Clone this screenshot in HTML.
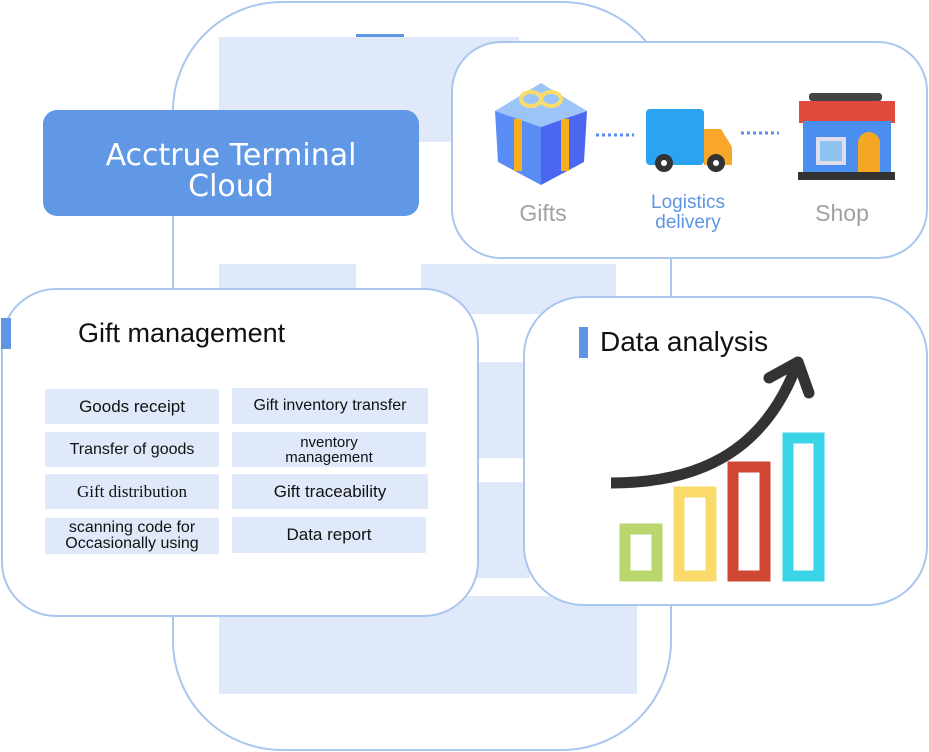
<!DOCTYPE html>
<html><head><style>
body{margin:0;width:929px;height:752px;position:relative;overflow:hidden;background:#fff;font-family:"Liberation Sans","DejaVu Sans",sans-serif}
.a{position:absolute;box-sizing:border-box}
.bl{background:#dfe9f9}
.cell{position:absolute;background:#dfe9f9;display:flex;align-items:center;justify-content:center;text-align:center;font-size:16px;line-height:16px;color:#111}
</style></head><body>
<div class="a" style="left:172px;top:1px;width:500px;height:750px;border:2px solid #a9c6ef;border-radius:110px"></div>
<div class="a" style="left:356px;top:34px;width:48px;height:4px;background:#5f96e4"></div>
<div class="a bl" style="left:219px;top:37px;width:300px;height:105px"></div>
<div class="a bl" style="left:219px;top:264px;width:137px;height:40px"></div>
<div class="a bl" style="left:421px;top:264px;width:195px;height:50px"></div>
<div class="a bl" style="left:470px;top:362px;width:60px;height:96px"></div>
<div class="a bl" style="left:470px;top:482px;width:60px;height:96px"></div>
<div class="a bl" style="left:219px;top:596px;width:418px;height:98px"></div>

<div class="a" style="left:43px;top:110px;width:376px;height:106px;background:#6098e6;border-radius:14px;color:#fff;font-family:'DejaVu Sans',sans-serif;font-size:30px;line-height:31px;text-align:center;padding-top:30px">Acctrue Terminal<br>Cloud</div>

<div class="a" style="left:451px;top:41px;width:477px;height:218px;background:#fff;border:2px solid #a9c6ef;border-radius:50px"></div>
<svg class="a" style="left:451px;top:41px" width="477" height="218">
 <polygon points="44,70 90,86 136,70 90,42" fill="#9cc4f9"/>
 <polygon points="44,70 90,86 90,144 47,121" fill="#5a8cf5"/>
 <polygon points="90,86 136,70 133,121 90,144" fill="#4b67f0"/>
 <rect x="63" y="78" width="8" height="52" fill="#f5ae1c"/><rect x="110" y="78" width="8" height="52" fill="#f5ae1c"/>
 <ellipse cx="80" cy="58" rx="10" ry="7" fill="none" stroke="#f9dc6b" stroke-width="4"/>
 <ellipse cx="100" cy="58" rx="10" ry="7" fill="none" stroke="#f9dc6b" stroke-width="4"/>
 <line x1="145" y1="94" x2="183" y2="94" stroke="#5a8cf5" stroke-width="3" stroke-dasharray="3,3"/>
 <rect x="195" y="68" width="58" height="56" rx="4" fill="#2aa3f0"/>
 <path d="M253,88 h17 l11,18 v18 h-28z" fill="#f9a72a"/>
 <circle cx="213" cy="122" r="9" fill="#333"/><circle cx="213" cy="122" r="3" fill="#fff"/>
 <circle cx="265" cy="122" r="9" fill="#333"/><circle cx="265" cy="122" r="3" fill="#fff"/>
 <line x1="290" y1="92" x2="328" y2="92" stroke="#5a8cf5" stroke-width="3" stroke-dasharray="3,3"/>
 <rect x="358" y="52" width="73" height="8" rx="3" fill="#444"/>
 <path d="M348,60 h96 l0,22 h-96z" fill="#e04a3c"/>
 <rect x="352" y="80" width="88" height="52" fill="#4a8ef0"/>
 <rect x="365" y="96" width="30" height="28" fill="#dde" /><rect x="369" y="100" width="22" height="20" fill="#8cc4ef"/>
 <path d="M407,132 v-30 a11,11 0 0 1 22,0 v30z" fill="#f5a623"/>
 <rect x="347" y="131" width="97" height="8" fill="#333"/>
 <text x="92" y="180" font-size="23" fill="#a0a0a0" text-anchor="middle" font-family="Liberation Sans,sans-serif">Gifts</text>
 <text x="237" y="167" font-size="19" fill="#5d95e4" text-anchor="middle" font-family="Liberation Sans,sans-serif">Logistics</text>
 <text x="237" y="187" font-size="19" fill="#5d95e4" text-anchor="middle" font-family="Liberation Sans,sans-serif">delivery</text>
 <text x="391" y="180" font-size="23" fill="#a0a0a0" text-anchor="middle" font-family="Liberation Sans,sans-serif">Shop</text>
</svg>

<div class="a" style="left:1px;top:288px;width:478px;height:329px;background:#fff;border:2px solid #a9c6ef;border-radius:55px"></div>
<div class="a" style="left:1px;top:318px;width:10px;height:31px;background:#5f96e4"></div>
<div class="a" style="left:78px;top:318px;font-size:27px;color:#111">Gift management</div>
<div class="cell" style="left:45px;top:389px;width:174px;height:35px;font-size:17px">Goods receipt</div>
<div class="cell" style="left:45px;top:432px;width:174px;height:35px">Transfer of goods</div>
<div class="cell" style="left:45px;top:474px;width:174px;height:35px;font-family:'Liberation Serif',serif;font-size:17px">Gift distribution</div>
<div class="cell" style="left:45px;top:518px;width:174px;height:36px">scanning code for<br>Occasionally using</div>
<div class="cell" style="left:232px;top:388px;width:196px;height:36px">Gift inventory transfer</div>
<div class="cell" style="left:232px;top:432px;width:194px;height:35px;font-size:15px;line-height:15px">nventory<br>management</div>
<div class="cell" style="left:232px;top:474px;width:196px;height:35px;font-size:17px">Gift traceability</div>
<div class="cell" style="left:232px;top:517px;width:194px;height:36px;font-size:17px">Data report</div>

<div class="a" style="left:523px;top:296px;width:405px;height:310px;background:#fff;border:2px solid #a9c6ef;border-radius:60px"></div>
<div class="a" style="left:579px;top:327px;width:9px;height:31px;background:#5f96e4"></div>
<div class="a" style="left:600px;top:326px;font-size:28px;color:#111">Data analysis</div>
<svg class="a" style="left:523px;top:296px" width="405" height="310">
 <rect x="102" y="233" width="32" height="47" fill="none" stroke="#b9d76d" stroke-width="11"/>
 <rect x="156" y="196" width="32" height="84" fill="none" stroke="#f9da6b" stroke-width="11"/>
 <rect x="210" y="171" width="32" height="109" fill="none" stroke="#cf4733" stroke-width="11"/>
 <rect x="265" y="142" width="31" height="138" fill="none" stroke="#3bd3e8" stroke-width="11"/>
 <path d="M88,187 C170,187 240,160 274,68" fill="none" stroke="#333" stroke-width="11"/>
 <path d="M246,82 L275,66 L286,97" fill="none" stroke="#333" stroke-width="11" stroke-linecap="round" stroke-linejoin="round"/>
</svg>
</body></html>
